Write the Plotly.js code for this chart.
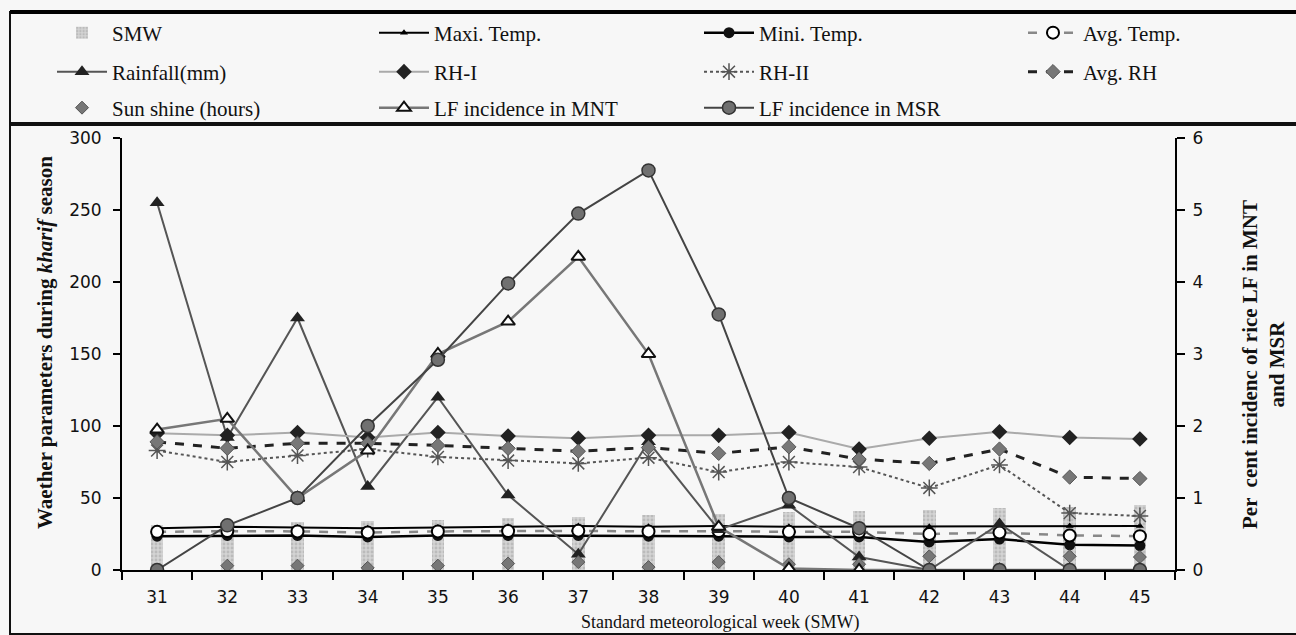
<!DOCTYPE html>
<html>
<head>
<meta charset="utf-8">
<script src="https://cdn.plot.ly/plotly-3.0.1.min.js"></script>
<style>html,body{margin:0;padding:0;background:#f7f7f7;}#chart{width:1296px;height:635px;}</style>
</head>
<body>
<div id="chart"></div>
<script>
const weeks = [31,32,33,34,35,36,37,38,39,40,41,42,43,44,45];
const smw = [31,32,33,34,35,36,37,38,39,40,41,42,43,44,45];
const maxTemp = [29,30,29.5,29,29.5,30,30.5,30,30.5,30,30,30,30,30.5,30.5];
const minTemp = [23.5,24,24,23,24,24,24,23.5,23.5,23,23,19.5,21.5,17.5,17];
const avgTemp = [26.5,27,26.8,26,26.8,27,27.2,26.8,27,26.5,26.5,25,26,24,23.5];
const rainfall = [255,92,175,58,120,52,11,89,28,45,9,0,32,0,0];
const rh1 = [95,93.5,95.5,92,95.5,93,91.5,93.5,93.5,95.5,84,91.5,96,92,91];
const rh2 = [83,75,79.5,84,78.5,76,74,78,68,75,71.5,57,73,39.5,37.5];
const avgRH = [89,84.5,88,88,86.5,84.5,82.5,85,81,85.5,77,74,84,64.5,63.5];
const sunshine = [0,3,3,1.5,3,4.5,5.5,2,5.5,4,4,9.5,0,9.5,9];
const lfMNT = [1.95,2.1,1.0,1.66,3.0,3.45,4.35,3.0,0.6,0.02,0,0,0,0,0];
const lfMSR = [0,0.62,1.0,2.0,2.92,3.98,4.95,5.55,3.55,1.0,0.58,0,0,0,0];
const leftTicks = [0,50,100,150,200,250,300];
const rightTicks = [0,1,2,3,4,5,6];

const traces = [
  {type:'bar', name:'SMW', x:weeks, y:smw, width:0.18, legend:'legend',
   marker:{color:'#d0d0d0', pattern:{shape:'.', fgcolor:'#bbbbbb', bgcolor:'#d4d4d4', size:4, solidity:0.4}}},
  {type:'scatter', mode:'lines+markers', name:'Maxi. Temp.', x:weeks, y:maxTemp, legend:'legend2',
   line:{color:'#000', width:2}, marker:{symbol:'triangle-up', size:7, color:'#000'}},
  {type:'scatter', mode:'lines+markers', name:'Mini. Temp.', x:weeks, y:minTemp, legend:'legend3',
   line:{color:'#000', width:2.5}, marker:{symbol:'circle', size:11, color:'#111'}},
  {type:'scatter', mode:'lines+markers', name:'Avg. Temp.', x:weeks, y:avgTemp, legend:'legend4',
   line:{color:'#888', width:2.5, dash:'dash'}, marker:{symbol:'circle', size:12, color:'#fff', line:{color:'#000', width:2}}},
  {type:'scatter', mode:'lines+markers', name:'Rainfall(mm)', x:weeks, y:rainfall, legend:'legend5',
   line:{color:'#555', width:2}, marker:{symbol:'triangle-up', size:13, color:'#222'}},
  {type:'scatter', mode:'lines+markers', name:'RH-I', x:weeks, y:rh1, legend:'legend6',
   line:{color:'#aaa', width:2}, marker:{symbol:'diamond', size:12, color:'#222'}},
  {type:'scatter', mode:'lines+markers', name:'RH-II', x:weeks, y:rh2, legend:'legend7',
   line:{color:'#555', width:2, dash:'dot'}, marker:{symbol:'asterisk-open', size:14, line:{color:'#222', width:1.5}}},
  {type:'scatter', mode:'lines+markers', name:'Avg. RH', x:weeks, y:avgRH, legend:'legend8',
   line:{color:'#222', width:3, dash:'dash'}, marker:{symbol:'diamond', size:11, color:'#777', line:{color:'#555', width:1}}},
  {type:'scatter', mode:'markers', name:'Sun shine (hours)', x:weeks, y:sunshine, legend:'legend9',
   marker:{symbol:'diamond', size:10, color:'#777', line:{color:'#555', width:1}}},
  {type:'scatter', mode:'lines+markers', name:'LF incidence in MNT', x:weeks, y:lfMNT, yaxis:'y2', legend:'legend10',
   line:{color:'#777', width:2.5}, marker:{symbol:'triangle-up', size:12, color:'#fff', line:{color:'#111', width:2}}},
  {type:'scatter', mode:'lines+markers', name:'LF incidence in MSR', x:weeks, y:lfMSR, yaxis:'y2', legend:'legend11',
   line:{color:'#444', width:2}, marker:{symbol:'circle', size:13, color:'#707070', line:{color:'#333', width:1.5}}}
];

const W = 1053, H = 432;
const px = v => (v - 122) / W;
const py = v => (570 - v) / H;
const legFont = {family:'Liberation Serif, serif', size:21, color:'#111'};
function leg(xPix, yPix){
  return {orientation:'h', x:px(xPix), xanchor:'left', y:py(yPix), yanchor:'middle',
    itemwidth:50, bgcolor:'rgba(0,0,0,0)', font:legFont, borderwidth:0};
}
const colX = [52, 374, 699, 1023];
const rowY = [33, 72, 108];

const tickFont = {family:'DejaVu Sans, sans-serif', size:17, color:'#111'};
const layout = {
  width:1296, height:635,
  paper_bgcolor:'#f7f7f7', plot_bgcolor:'#f7f7f7',
  margin:{l:122, r:121, t:138, b:65, autoexpand:false},
  showlegend:true,
  xaxis:{range:[30.5,45.5], tickvals:weeks, ticktext:weeks.map(String), ticks:'', showgrid:false, zeroline:false,
    showline:true, linecolor:'#000', linewidth:2, ticklabelstandoff:11,
    tickfont:tickFont,
    minor:{tick0:30.5, dtick:1, ticks:'outside', ticklen:8, tickwidth:2, tickcolor:'#000'}},
  xaxis2:{range:[30.5,45.5], overlaying:'x', anchor:'y', showticklabels:false, ticks:'', showgrid:false, zeroline:false, showline:false,
    minor:{tick0:30.5, dtick:1, ticks:'inside', ticklen:8, tickwidth:2, tickcolor:'#000'}},
  yaxis:{range:[0,300], tickvals:leftTicks, ticks:'outside', ticklen:7, tickwidth:2, tickcolor:'#000',
    showline:true, linecolor:'#000', linewidth:2, showgrid:false, zeroline:false, ticklabelstandoff:8,
    tickfont:tickFont},
  yaxis3:{range:[0,300], tickvals:leftTicks, overlaying:'y', anchor:'x', side:'left', ticks:'inside', ticklen:7, tickwidth:2, tickcolor:'#000',
    showticklabels:false, showline:false, showgrid:false, zeroline:false},
  yaxis2:{range:[0,6], tickvals:rightTicks, overlaying:'y', side:'right', ticks:'outside', ticklen:8, tickwidth:2, tickcolor:'#000',
    showline:true, linecolor:'#000', linewidth:2, showgrid:false, zeroline:false, ticklabelstandoff:4,
    tickfont:tickFont},
  bargap:0,
  shapes:[
    {type:'rect', xref:'paper', yref:'paper', x0:px(10), x1:px(1300), y0:py(123), y1:py(12), line:{color:'#111', width:2}, fillcolor:'rgba(0,0,0,0)'},
    {type:'line', xref:'paper', yref:'paper', x0:px(10), x1:px(1300), y0:py(12), y1:py(12), line:{color:'#000', width:4}},
    {type:'rect', xref:'paper', yref:'paper', x0:px(10), x1:px(1300), y0:py(634), y1:py(125), line:{color:'#111', width:2}, fillcolor:'rgba(0,0,0,0)'}
  ],
  annotations:[
    {xref:'paper', yref:'paper', x:px(720), y:py(622), text:'Standard meteorological week (SMW)', showarrow:false,
      font:{family:'Liberation Serif, serif', size:18, color:'#111'}, xanchor:'center', yanchor:'middle'},
    {xref:'paper', yref:'paper', x:px(45), y:py(343), text:'<b>Waether parameters during <i>kharif</i> season</b>', showarrow:false, textangle:-90,
      font:{family:'Liberation Serif, serif', size:21, color:'#111'}, xanchor:'center', yanchor:'middle'},
    {xref:'paper', yref:'paper', x:px(1263), y:py(365), text:'<b>Per  cent incidenc of rice LF in MNT<br>and MSR</b>', showarrow:false, textangle:-90,
      font:{family:'Liberation Serif, serif', size:21, color:'#111'}, xanchor:'center', yanchor:'middle'}
  ]
};
for (let i = 0; i < 11; i++) {
  const key = i === 0 ? 'legend' : 'legend' + (i + 1);
  layout[key] = leg(colX[i % 4], rowY[Math.floor(i / 4)]);
}

Plotly.newPlot('chart', traces, layout, {displayModeBar:false, staticPlot:true});
</script>
</body>
</html>
